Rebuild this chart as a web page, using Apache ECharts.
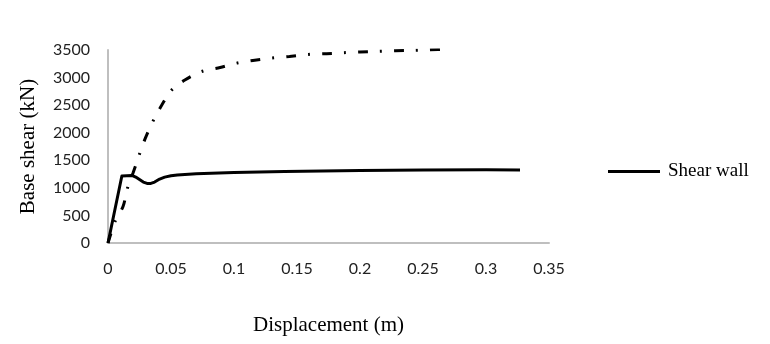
<!DOCTYPE html>
<html><head><meta charset="utf-8">
<script src="https://cdn.jsdelivr.net/npm/echarts@6/dist/echarts.min.js"></script>
<style>html,body{margin:0;padding:0;background:#fff}#c{width:770px;height:344px}</style>
</head><body><div id="c"></div>
<script>
var shearWallX = [0, 0.011, 0.019, 0.022, 0.025, 0.028, 0.031, 0.034, 0.037, 0.041, 0.045, 0.05, 0.055, 0.07, 0.1, 0.14, 0.2, 0.25, 0.3, 0.327];
var shearWallY = [0, 1215, 1225, 1195, 1150, 1105, 1080, 1080, 1105, 1160, 1195, 1220, 1235, 1258, 1278, 1298, 1314, 1322, 1327, 1322];
var frameX = [0, 0.0056, 0.012, 0.0153, 0.02, 0.025, 0.0294, 0.036, 0.0426, 0.0505, 0.061, 0.0743, 0.089, 0.102, 0.115, 0.13, 0.144, 0.159, 0.1735, 0.187, 0.2, 0.2145, 0.228, 0.242, 0.2556, 0.27];
var frameY = [0, 390, 665, 984, 1277, 1612, 1887, 2223, 2498, 2773, 2956, 3110, 3182, 3262, 3311, 3353, 3384, 3420, 3433, 3451, 3463, 3476, 3488, 3494, 3505, 3512];
var xTicks = {min: 0, max: 0.35, interval: 0.05};
var yTicks = {min: 0, max: 3500, interval: 500};

function zip(a, b) { return a.map(function (v, i) { return [v, b[i]]; }); }

var chart = echarts.init(document.getElementById('c'));
chart.setOption({
  animation: false,
  backgroundColor: '#fff',
  grid: {left: 108, right: 221, top: 50, bottom: 101, containLabel: false},
  legend: {
    data: [{name: 'Shear wall', icon: 'rect'}],
    left: 608, top: 162, padding: 0, itemWidth: 52, itemHeight: 3, itemGap: 8,
    textStyle: {fontFamily: 'Liberation Serif', fontSize: 19, color: '#000', padding: [0, 0, 0, 3]}
  },
  xAxis: {
    type: 'value', min: xTicks.min, max: xTicks.max, interval: xTicks.interval,
    name: 'Displacement (m)', nameLocation: 'middle', nameGap: 72,
    nameTextStyle: {fontFamily: 'Liberation Serif', fontSize: 21, color: '#000'},
    axisLine: {show: true, lineStyle: {color: '#bfbfbf', width: 2}},
    axisTick: {show: false}, splitLine: {show: false},
    axisLabel: {fontFamily: 'Lato', fontSize: 16, color: '#222', margin: 18,
      formatter: function (v) { return String(+v.toFixed(2)); }}
  },
  yAxis: {
    type: 'value', min: yTicks.min, max: yTicks.max, interval: yTicks.interval,
    name: 'Base shear (kN)', nameLocation: 'middle', nameGap: 69,
    nameTextStyle: {fontFamily: 'Liberation Serif', fontSize: 21, color: '#000'},
    axisLine: {show: true, lineStyle: {color: '#bfbfbf', width: 2}},
    axisTick: {show: false}, splitLine: {show: false},
    axisLabel: {fontFamily: 'Lato', fontSize: 16, color: '#222', margin: 18,
      formatter: function (v) { return String(v); }}
  },
  series: [
    {
      name: 'Frame', type: 'line', data: zip(frameX, frameY), showSymbol: false, smooth: 0.3,
      lineStyle: {color: '#000', width: 3, type: [10, 12, 2, 12], cap: 'butt'}, itemStyle: {color: '#000'}
    },
    {
      name: 'Shear wall', type: 'line', data: zip(shearWallX, shearWallY), showSymbol: false, smooth: false,
      lineStyle: {color: '#000', width: 3, join: 'round'}, itemStyle: {color: '#000'}
    }
  ]
});
</script></body></html>
